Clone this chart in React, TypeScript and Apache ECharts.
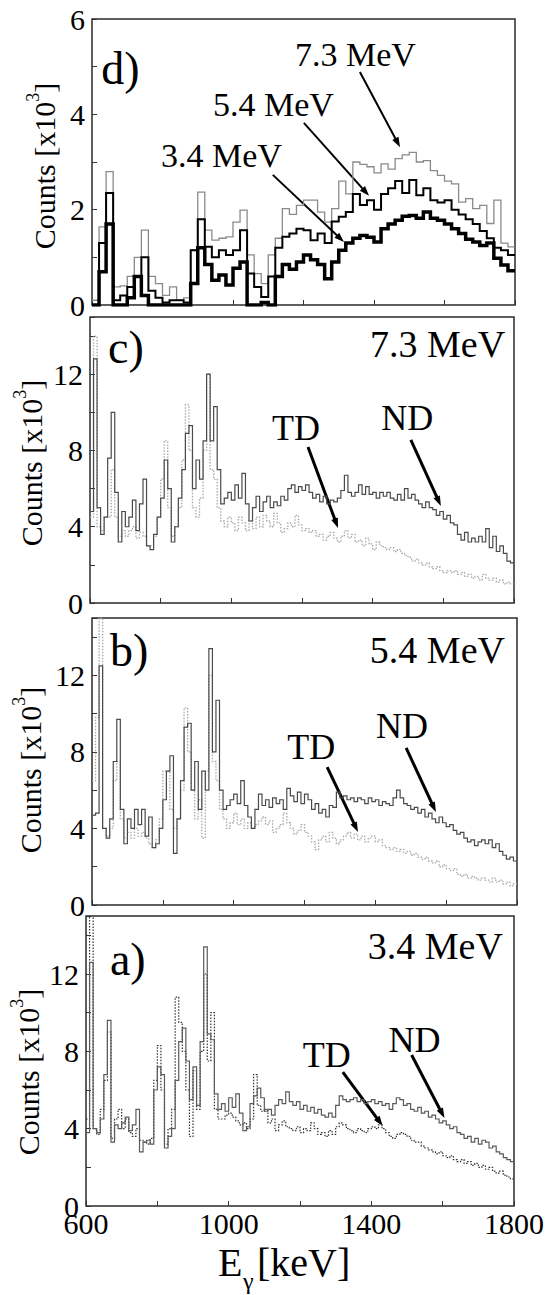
import React, { useEffect, useRef } from "react";
import * as echarts from "echarts";

const FONT = "Liberation Serif";

// ---- x range / bins ----
const X_MIN = 600;
const X_MAX = 1800;
const BIN_D = 20; // keV per bin, panel d
const BIN_ABC = 10; // keV per bin, panels a-c

// ---- panel d (counts x10^3), 20 keV bins from 600 keV ----
const d73 = [
  0.1, 1.64, 2.8, 0.38, 0.4, 0.6, 1.0, 1.57, 0.6, 0.45,
  0.2, 0.38, 0.1, 0.15, 1.15, 2.37, 1.57, 1.36, 1.4, 1.43,
  1.74, 1.99, 1.05, 0.66, 0.45, 1.05, 1.4, 2.02, 1.9, 2.09,
  2.2, 2.2, 1.95, 1.74, 2.02, 2.6, 2.33, 3.0, 2.95, 2.9,
  2.77, 2.96, 2.85, 3.07, 3.15, 3.2, 3.0, 3.03, 2.82, 2.72,
  2.6, 2.54, 2.16, 2.23, 2.02, 2.09, 1.71, 2.2, 1.3, 1.22,
];
const d54 = [
  0, 1.3, 2.35, 0.1, 0.2, 0.38, 0.6, 1.0, 0.3, 0.15,
  0.05, 0.1, 0.1, 0.05, 1.15, 1.8, 1.22, 1.0, 1.15, 1.05,
  1.15, 1.57, 0.66, 0.38, 0.17, 0.6, 1.2, 1.43, 1.5, 1.6,
  1.57, 1.36, 1.5, 1.3, 1.75, 1.85, 1.95, 2.33, 2.1, 2.2,
  2.0, 2.33, 2.45, 2.6, 2.35, 2.62, 2.3, 2.45, 2.2, 2.15,
  2.2, 2.0, 1.9, 1.8, 1.7, 1.55, 1.4, 1.2, 1.15, 1.05,
];
const d34 = [
  0, 0.7, 1.7, 0, 0, 0.15, 0.6, 0.2, 0, 0,
  0, 0, 0, 0, 0.45, 1.2, 0.85, 0.52, 0.63, 0.42,
  0.77, 0.9, 0, 0, 0.05, 0, 0.6, 0.85, 0.75, 0.9,
  1.05, 0.95, 0.85, 0.55, 0.9, 1.15, 1.3, 1.4, 1.46, 1.42,
  1.32, 1.6, 1.7, 1.78, 1.86, 1.88, 1.82, 1.95, 1.82, 1.78,
  1.7, 1.6, 1.5, 1.38, 1.32, 1.25, 1.3, 0.98, 0.84, 0.72,
];

// ---- panel c (7.3 MeV), 10 keV bins ----
const cND = [
  4.8, 12.8, 5.0, 3.6, 4.5, 7.6, 10.0, 5.8, 3.2, 4.8,
  4.0, 4.5, 5.4, 3.8, 5.2, 6.5, 3.0, 2.8, 3.6, 4.5,
  5.5, 7.5, 6.0, 3.2, 4.0, 5.5, 7.0, 8.9, 9.3, 6.0,
  7.5, 6.5, 8.5, 12.0, 8.5, 10.3, 7.0, 5.2, 5.5, 5.8,
  5.4, 6.2, 5.5, 6.8, 5.2, 4.3, 5.0, 5.6, 4.8, 5.3,
  5.6, 5.0, 5.3, 5.1, 5.6, 5.4, 6.0, 6.2, 5.8, 6.1,
  5.9, 6.2, 5.8, 5.5, 5.7, 5.3, 5.6, 5.2, 5.4, 5.3,
  5.5, 5.9, 6.7, 5.8, 5.6, 5.8, 6.2, 5.7, 6.1, 5.7,
  5.8, 5.5, 5.8, 5.6, 5.8, 5.5, 5.4, 5.7, 5.4, 6.0,
  5.5, 5.7, 5.4, 5.2, 5.0, 5.3, 5.0, 4.9, 4.6, 4.8,
  4.4, 4.6, 4.2, 4.1, 3.6, 3.3, 3.7, 3.2, 3.4, 3.2,
  3.5, 3.2, 3.9, 2.9, 3.5, 2.7, 3.0, 2.6, 2.2, 2.1,
];
const cTD = [
  4.5, 14.0, 4.0, 3.8, 4.5, 4.5, 7.0, 4.5, 3.5, 3.8,
  3.5, 3.8, 4.0, 3.4, 3.7, 3.5, 3.0, 3.0, 3.5, 4.5,
  6.5, 8.5, 5.0, 3.5, 4.0, 5.0, 7.5, 10.4, 8.0, 5.0,
  4.5, 5.5, 8.0, 12.0, 7.0, 6.5, 5.0, 4.3, 4.0, 4.5,
  4.2, 3.8, 4.5, 4.2, 3.8, 4.3, 3.9, 4.5, 4.0, 4.6,
  4.3, 4.0, 4.7, 4.2, 3.7, 3.9, 4.2, 4.0, 4.6, 4.1,
  3.8, 3.9, 3.7, 3.8, 3.5, 3.6, 3.3, 3.5, 3.7, 3.4,
  3.2, 3.5, 3.8, 3.4, 3.6, 3.2, 3.3, 3.0, 3.4, 3.1,
  2.8, 3.2, 3.0, 2.9, 2.8, 2.9, 2.7, 2.8, 2.6, 2.5,
  2.4, 2.2, 2.3, 2.1, 2.0, 2.1, 1.9, 1.8, 1.9, 1.7,
  1.6, 1.7, 1.6, 1.7, 1.5, 1.6, 1.4, 1.5, 1.3, 1.4,
  1.2, 1.5, 1.3, 1.2, 1.3, 1.1, 1.2, 1.0, 1.1, 1.0,
];

// ---- panel b (5.4 MeV) ----
const bND = [
  4.7, 4.8, 12.5, 4.0, 3.5, 4.5, 7.5, 9.7, 5.0, 3.2,
  4.5, 4.0, 5.0, 4.2, 5.0, 3.6, 4.6, 3.0, 3.2, 4.0,
  5.5, 7.0, 7.8, 2.7, 4.5, 6.5, 9.3, 9.5, 6.0, 7.5,
  5.0, 7.0, 6.0, 13.4, 8.0, 10.7, 6.0, 5.0, 5.2, 5.5,
  5.8, 5.3, 6.5, 5.2, 4.6, 4.0, 5.0, 5.8, 5.2, 5.5,
  5.1, 5.6, 5.3, 5.5, 5.0, 6.1, 5.7, 5.4, 5.9, 5.3,
  5.8, 5.5, 5.0, 5.3, 4.8, 5.0, 4.6, 5.2, 5.1, 5.9,
  5.6, 5.7, 5.5, 5.6, 5.4, 5.6, 5.5, 5.3, 5.6, 5.4,
  5.5, 5.2, 5.4, 5.3, 5.2, 5.6, 6.0, 5.6, 5.3, 5.2,
  5.0, 5.1, 4.8, 5.0, 4.6, 4.8, 4.5, 4.3, 4.6, 4.3,
  4.1, 4.2, 3.9, 3.7, 3.8, 3.5, 3.3, 3.4, 3.1, 3.3,
  3.4, 3.2, 3.4, 3.0, 3.2, 2.8, 2.6, 2.4, 2.5, 2.3,
];
const bTD = [
  6.5, 9.8, 15.0, 4.0, 3.6, 4.0, 6.5, 7.5, 4.5, 3.5,
  3.8, 3.5, 4.0, 3.6, 3.8, 3.5, 3.2, 3.0, 3.4, 4.5,
  7.0, 7.0, 5.0, 4.0, 4.5, 6.0, 10.3, 8.0, 6.0, 4.5,
  5.5, 3.5, 7.0, 12.0, 7.5, 6.5, 5.0, 4.5, 4.0, 4.3,
  4.8, 4.2, 4.5, 4.0, 4.3, 4.0, 4.2, 4.4, 4.6, 4.2,
  4.4, 3.8, 4.0, 4.2, 4.8, 4.3, 4.0, 3.7, 3.9, 4.2,
  3.8, 3.6, 3.3, 2.9, 3.4, 3.6, 3.3, 3.8, 3.5, 3.2,
  3.4, 3.6, 3.8, 3.5, 3.7, 3.4, 3.6, 3.3, 3.5, 3.6,
  3.3, 3.4, 3.1, 3.0, 2.9, 3.0, 2.8, 2.9, 2.7, 2.8,
  2.6, 2.7, 2.5, 2.4, 2.5, 2.3, 2.2, 2.3, 2.0, 2.1,
  1.9, 1.8, 1.9, 1.6, 1.5, 1.6, 1.4, 1.5, 1.4, 1.3,
  1.4, 1.3, 1.2, 1.4, 1.2, 1.3, 1.1, 1.2, 1.0, 1.1,
];

// ---- panel a (3.4 MeV) ----
const aND = [
  3.8, 12.6, 4.0, 3.8, 4.5, 6.8, 9.6, 3.3, 4.2, 4.0,
  4.3, 4.6, 3.9, 4.2, 5.0, 2.8, 3.3, 3.4, 3.2, 6.0,
  7.2, 6.8, 3.0, 3.6, 4.0, 6.5, 8.5, 9.2, 7.5, 5.5,
  7.2, 5.2, 8.5, 13.4, 8.9, 8.6, 5.8, 5.0, 5.3, 4.9,
  5.6, 5.1, 5.8, 4.8, 3.9, 4.1, 5.3, 5.7, 6.1, 5.6,
  4.9, 5.0, 4.7, 5.2, 5.5, 5.3, 5.9, 5.4, 5.2, 5.4,
  5.0, 5.2, 4.9, 5.1, 4.8, 5.0, 4.7, 4.6, 4.8, 4.6,
  5.2, 5.7, 5.5, 5.4, 5.5, 5.6, 5.4, 5.5, 5.3, 5.4,
  5.5, 5.3, 5.4, 5.2, 5.3, 5.0, 5.3, 5.6, 5.5, 5.2,
  5.3, 5.0, 4.9, 5.1, 4.8, 4.9, 4.6, 4.7, 4.5, 4.3,
  4.4, 4.2, 4.0, 4.1, 3.8, 3.7, 3.5, 3.6, 3.3, 3.5,
  3.2, 3.4, 3.3, 3.0, 3.1, 2.8, 2.7, 2.5, 2.4, 2.3,
];
const aTD = [
  4.5, 15.5, 4.0, 3.7, 5.0, 6.5, 9.0, 3.5, 4.5, 5.0,
  4.0, 4.5, 3.8, 3.6, 4.0, 3.4, 3.3, 3.2, 3.5, 6.5,
  8.3, 6.0, 3.2, 4.0, 5.0, 10.8, 9.5, 8.0, 6.0, 3.6,
  7.0, 5.0, 8.0, 12.0, 7.5, 10.0, 5.0, 4.5, 4.5, 4.7,
  4.8, 4.6, 4.4, 4.2, 4.3, 4.0, 4.5, 6.8, 5.2, 4.9,
  5.0, 4.3, 4.5, 3.9, 4.2, 4.4, 4.1, 4.0, 3.9, 4.1,
  3.8, 4.0, 3.9, 4.3, 4.0, 3.7, 3.8, 3.6, 3.9, 3.7,
  4.1, 4.3, 4.2, 4.0, 3.9, 3.8, 4.0, 3.9, 3.8, 4.0,
  4.1, 4.0, 4.2, 4.0, 3.8, 3.6, 3.5, 3.7, 3.8, 3.7,
  3.6, 3.4, 3.3, 3.3, 3.1, 3.0, 2.9, 2.8, 2.7, 2.8,
  2.6, 2.5, 2.6, 2.4, 2.3, 2.4, 2.2, 2.3, 2.1, 2.2,
  2.0, 2.1, 1.9, 2.0, 1.8, 1.7, 1.8, 1.6, 1.5, 1.4,
];

// ---- axis settings ----
const Y_MAX = [6, 15, 15, 15];
const Y_INTERVAL = [1, 2, 2, 2];
const Y_LABEL_STEP = [2, 4, 4, 4];
const Y_LABEL_MAX = [6, 12, 12, 12];
const X_INTERVAL = 200;
const X_LABEL_STEP = 400;

// ---- annotations (data coordinates) ----
type Txt = { g: number; text: string; x: number; y: number; size: number; align: string };
const TEXTS: Txt[] = [
  { g: 0, text: "d)", x: 626, y: 4.64, size: 46, align: "left" },
  { g: 0, text: "7.3 MeV", x: 1176, y: 5.01, size: 34, align: "left" },
  { g: 0, text: "5.4 MeV", x: 943, y: 3.97, size: 34, align: "left" },
  { g: 0, text: "3.4 MeV", x: 796, y: 2.9, size: 34, align: "left" },
  { g: 1, text: "c)", x: 651, y: 12.59, size: 46, align: "left" },
  { g: 1, text: "7.3 MeV", x: 1775, y: 12.9, size: 38, align: "right" },
  { g: 1, text: "TD", x: 1115, y: 8.55, size: 36, align: "left" },
  { g: 1, text: "ND", x: 1424, y: 9.07, size: 36, align: "left" },
  { g: 2, text: "b)", x: 651, y: 12.49, size: 46, align: "left" },
  { g: 2, text: "5.4 MeV", x: 1766, y: 12.65, size: 38, align: "right" },
  { g: 2, text: "TD", x: 1151, y: 7.63, size: 36, align: "left" },
  { g: 2, text: "ND", x: 1402, y: 8.73, size: 36, align: "left" },
  { g: 3, text: "a)", x: 667, y: 11.95, size: 46, align: "left" },
  { g: 3, text: "3.4 MeV", x: 1769, y: 12.78, size: 38, align: "right" },
  { g: 3, text: "TD", x: 1208, y: 7.19, size: 36, align: "left" },
  { g: 3, text: "ND", x: 1448, y: 7.97, size: 36, align: "left" },
];
type Arr = { g: number; from: number[]; to: number[]; w: number };
const ARROWS: Arr[] = [
  { g: 0, from: [1360, 4.89], to: [1474, 3.31], w: 2 },
  { g: 0, from: [1201, 3.82], to: [1386, 2.29], w: 2 },
  { g: 0, from: [1113, 2.73], to: [1315, 1.32], w: 2 },
  { g: 1, from: [1217, 8.18], to: [1302, 3.93], w: 3 },
  { g: 1, from: [1508, 8.55], to: [1593, 5.09], w: 3 },
  { g: 2, from: [1264, 7.21], to: [1351, 3.82], w: 3 },
  { g: 2, from: [1487, 8.21], to: [1571, 4.86], w: 3 },
  { g: 3, from: [1320, 6.93], to: [1432, 4.14], w: 3 },
  { g: 3, from: [1513, 7.81], to: [1605, 4.55], w: 3 },
];

// layout
const GRIDS = [
  { left: 92, top: 19, width: 423, height: 286 },
  { left: 90, top: 317, width: 424, height: 286 },
  { left: 92, top: 618, width: 425, height: 287 },
  { left: 86, top: 916, width: 430, height: 290 },
];
const COUNTS_POS = [
  [44, 166],
  [31, 463],
  [30, 770],
  [28, 1072],
];

function steps(vals: number[], w: number) {
  const pts: number[][] = vals.map((v, i) => [X_MIN + i * w, v]);
  pts.push([X_MIN + vals.length * w, vals[vals.length - 1]]);
  return pts;
}

function line(g: number, vals: number[], w: number, color: string, width: number, dash: any) {
  return {
    type: "line",
    xAxisIndex: g,
    yAxisIndex: g,
    data: steps(vals, w),
    step: "end",
    symbol: "none",
    showSymbol: false,
    silent: true,
    clip: true,
    lineStyle: { color, width, type: dash, join: "miter", cap: "butt" },
  };
}

function buildOption() {
  return {
    animation: false,
    backgroundColor: "#ffffff",
    textStyle: { fontFamily: FONT },
    grid: GRIDS.map((g) => ({
      ...g,
      show: true,
      borderColor: "#2b2b2b",
      borderWidth: 1.5,
      backgroundColor: "transparent",
      containLabel: false,
    })),
    xAxis: GRIDS.map((_, i) => ({
      type: "value",
      gridIndex: i,
      min: X_MIN,
      max: X_MAX,
      interval: X_INTERVAL,
      axisLine: { show: false },
      axisTick: { show: true, inside: true, length: 5, lineStyle: { color: "#333", width: 1 } },
      splitLine: { show: false },
      axisLabel: {
        show: i === 3,
        margin: 2,
        color: "#000",
        fontFamily: FONT,
        fontSize: 30,
        formatter: (v: number) => ((v - X_MIN) % X_LABEL_STEP === 0 ? String(v) : ""),
      },
    })),
    yAxis: GRIDS.map((_, i) => ({
      type: "value",
      gridIndex: i,
      min: 0,
      max: Y_MAX[i],
      interval: Y_INTERVAL[i],
      axisLine: { show: false },
      axisTick: { show: true, inside: true, length: 5, lineStyle: { color: "#333", width: 1 } },
      splitLine: { show: false },
      axisLabel: {
        margin: 7,
        color: "#000",
        fontFamily: FONT,
        fontSize: 30,
        formatter: (v: number) =>
          v % Y_LABEL_STEP[i] === 0 && v <= Y_LABEL_MAX[i] ? String(v) : "",
      },
    })),
    series: [
      line(0, d73, BIN_D, "#8a8a8a", 1.3, "solid"),
      line(0, d54, BIN_D, "#000", 2, "solid"),
      line(0, d34, BIN_D, "#000", 3.5, "solid"),
      line(1, cTD, BIN_ABC, "#a8a8a8", 1.3, [1.5, 1.5]),
      line(1, cND, BIN_ABC, "#4a4a4a", 1.2, "solid"),
      line(2, bTD, BIN_ABC, "#a8a8a8", 1.3, [1.5, 1.5]),
      line(2, bND, BIN_ABC, "#4a4a4a", 1.2, "solid"),
      line(3, aTD, BIN_ABC, "#333", 1.2, [1.5, 1.5]),
      line(3, aND, BIN_ABC, "#5a5a5a", 1.2, "solid"),
    ],
  };
}

function txt(x: number, y: number, text: string, size: number, align: string) {
  return {
    type: "text",
    x,
    y: y - 0.34 * size,
    silent: true,
    style: {
      text,
      fontFamily: FONT,
      fontSize: size,
      fill: "#000",
      align,
      textAlign: align,
      verticalAlign: "middle",
      textVerticalAlign: "middle",
    },
  };
}

function buildGraphics(chart: any) {
  const els: any[] = [];
  TEXTS.forEach((t) => {
    const p = chart.convertToPixel({ gridIndex: t.g }, [t.x, t.y]);
    els.push(txt(p[0], p[1], t.text, t.size, t.align));
  });
  ARROWS.forEach((a) => {
    const p1 = chart.convertToPixel({ gridIndex: a.g }, a.from);
    const p2 = chart.convertToPixel({ gridIndex: a.g }, a.to);
    const dx = p2[0] - p1[0];
    const dy = p2[1] - p1[1];
    const len = Math.sqrt(dx * dx + dy * dy);
    const ux = dx / len;
    const uy = dy / len;
    const hl = 10;
    const hw = 3.5;
    const bx = p2[0] - ux * hl;
    const by = p2[1] - uy * hl;
    els.push({
      type: "line",
      silent: true,
      shape: { x1: p1[0], y1: p1[1], x2: bx + ux * 2, y2: by + uy * 2 },
      style: { stroke: "#000", lineWidth: a.w },
    });
    els.push({
      type: "polygon",
      silent: true,
      shape: {
        points: [
          [p2[0], p2[1]],
          [bx - uy * hw, by + ux * hw],
          [bx + uy * hw, by - ux * hw],
        ],
      },
      style: { fill: "#000" },
    });
  });
  COUNTS_POS.forEach((c) => {
    els.push({
      type: "text",
      x: c[0],
      y: c[1],
      rotation: Math.PI / 2,
      silent: true,
      style: {
        text: "{m|Counts [x10}{s|3}{m|]}",
        align: "center",
        textAlign: "center",
        verticalAlign: "middle",
        textVerticalAlign: "middle",
        rich: {
          m: { fontFamily: FONT, fontSize: 30, lineHeight: 40, fill: "#000", verticalAlign: "middle" },
          s: { fontFamily: FONT, fontSize: 18, lineHeight: 18, fill: "#000", verticalAlign: "top" },
        },
      },
    });
  });
  // x-axis title E_gamma [keV]
  els.push(txt(218, 1276, "E", 40, "left"));
  els.push(txt(243, 1289, "γ", 24, "left"));
  els.push(txt(257, 1276, "[keV]", 40, "left"));
  return els;
}

export default function App() {
  const ref = useRef<HTMLDivElement>(null);
  useEffect(() => {
    if (!ref.current) return;
    const chart = echarts.init(ref.current, null, { renderer: "svg" });
    chart.setOption(buildOption() as any);
    chart.setOption({ graphic: buildGraphics(chart) } as any);
    return () => chart.dispose();
  }, []);
  return (
    <div
      ref={ref}
      style={{ position: "absolute", left: 0, top: 0, width: 547, height: 1295 }}
    />
  );
}
